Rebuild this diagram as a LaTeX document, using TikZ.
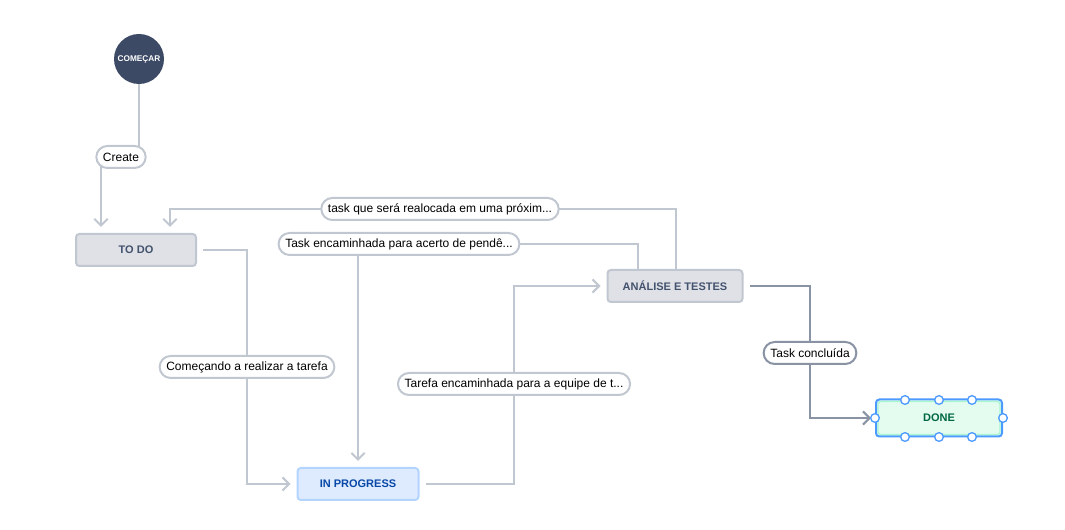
\documentclass[tikz,border=0pt]{standalone}
\usepackage{fontspec}
\setmainfont{Liberation Sans}
\usepackage{xcolor}
\usepackage{tikz}
\usetikzlibrary{arrows.meta}

\definecolor{lineGray}{HTML}{C1C7D0}
\definecolor{lineDark}{HTML}{8993A4}
\definecolor{startBlue}{HTML}{3D4A66}
\definecolor{boxGray}{HTML}{DFE1E6}
\definecolor{textGray}{HTML}{42526E}
\definecolor{progFill}{HTML}{DEEBFF}
\definecolor{progLine}{HTML}{B3D4FF}
\definecolor{progText}{HTML}{0747A6}
\definecolor{doneFill}{HTML}{E3FCEF}
\definecolor{doneLine}{HTML}{ABF5D1}
\definecolor{doneText}{HTML}{006644}
\definecolor{selBlue}{HTML}{4C9AFF}

\begin{document}
\begin{tikzpicture}[x=0.75pt, y=-0.75pt,
    status/.style={rectangle, rounded corners=2.5pt, line width=1.5pt, minimum height=24pt,
      font=\bfseries\fontsize{8.25}{10}\selectfont},
    trans/.style={rectangle, rounded corners=8.25pt, draw=lineGray, fill=white, line width=1.5pt,
      minimum height=16.5pt, inner xsep=5pt, inner ysep=0pt, font=\fontsize{9}{11}\selectfont},
    conn/.style={draw=lineGray, line width=1.5pt, shorten >=4.5pt,
      -{Straight Barb[length=5pt,width=10pt]}},
    handle/.style={circle, draw=selBlue, fill=white, line width=1pt, inner sep=0pt, minimum size=6.5pt}]
      \useasboundingbox (0,0) rectangle (1065,530);

      \coordinate (c1a) at (139,157);
      \coordinate (c1b) at (101,157);
      \coordinate (c2a) at (676,209);
      \coordinate (c2b) at (170,209);
      \coordinate (c3a) at (638,244);
      \coordinate (c3b) at (358,244);
      \coordinate (c4a) at (247,250);
      \coordinate (c4b) at (247,484);
      \coordinate (c5a) at (514,484);
      \coordinate (c5b) at (514,286);
      \coordinate (c6a) at (810,286);
      \coordinate (c6b) at (810,418);

      \node [circle, fill=startBlue, minimum size=37.5pt, inner sep=0pt, text=white,
        font=\bfseries\fontsize{6.2}{7}\selectfont] (start) at (139,59) {COMEÇAR};
      \node [status, fill=boxGray, draw=lineGray, text=textGray, minimum width=90pt] (todo) at (136,250) {TO DO};
      \node [status, fill=progFill, draw=progLine, text=progText, minimum width=90.75pt] (prog) at (358,484) {IN PROGRESS};
      \node [status, fill=boxGray, draw=lineGray, text=textGray, minimum width=101.25pt] (anal) at (675,286) {ANÁLISE E TESTES};
      \node [status, fill=doneFill, draw=selBlue, text=doneText, minimum width=94.5pt, minimum height=27.75pt] (done) at (939,418) {DONE};
      \draw [doneLine, line width=1pt, rounded corners=2pt]
        ([shift={(3,3)}]done.north west) rectangle ([shift={(-3,-3)}]done.south east);

      \draw [conn] (start.south) -- (c1a) -- (c1b) -- (c1b |- todo.north);
      \draw [conn] (anal.north -| c2a) -- (c2a) -- (c2b) -- (c2b |- todo.north);
      \draw [conn] (anal.north -| c3a) -- (c3a) -- (c3b) -- (prog.north);
      \draw [conn, shorten <=4.5pt] (todo.east) -- (c4a) -- (c4b) -- (prog.west);
      \draw [conn, shorten <=4.5pt] (prog.east) -- (c5a) -- (c5b) -- (anal.west);
      \draw [conn, draw=lineDark, shorten <=4.5pt, shorten >=3pt] (anal.east) -- (c6a) -- (c6b) -- (done.west);

      \foreach \hx in {905,939,972} {
        \node [handle] (ht\hx) at (\hx,400) {};
        \node [handle] (hb\hx) at (\hx,437) {};
      }
      \node [handle] (hl) at (done.west) {};
      \node [handle] (hr) at (done.east) {};

      \node [trans] (lcreate) at (121,157) {Create};
      \node [trans] (lrealoc) at (440,209) {task que será realocada em uma próxim...};
      \node [trans] (lpend) at (399,244) {Task encaminhada para acerto de pendê...};
      \node [trans] (lcomec) at (247,367) {Começando a realizar a tarefa};
      \node [trans] (lequipe) at (514,384) {Tarefa encaminhada para a equipe de t...};
      \node [trans, draw=lineDark] (lconc) at (810,353) {Task concluída};
\end{tikzpicture}
\end{document}
